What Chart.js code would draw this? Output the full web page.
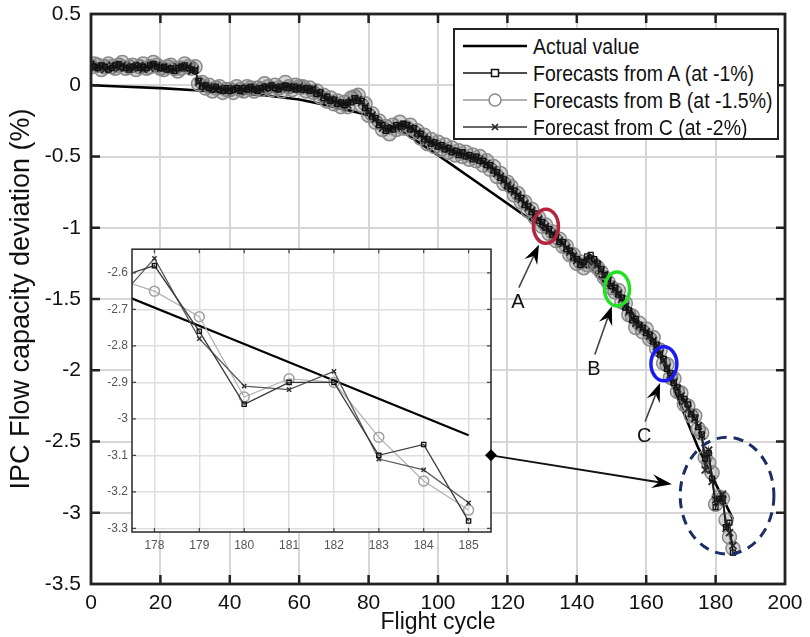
<!DOCTYPE html>
<html><head><meta charset="utf-8">
<script src="https://cdn.jsdelivr.net/npm/chart.js@4"></script>
<style>
html,body{margin:0;padding:0;background:#fff;}
#wrap{position:relative;width:810px;height:637px;overflow:hidden;}
#main{position:absolute;left:0;top:0;}
#inset{position:absolute;left:90px;top:238px;}
#legend{position:absolute;left:453px;top:28px;width:322px;height:108px;border:2px solid #222;background:#fff;
  font-family:'Liberation Sans',Arial,sans-serif;font-size:19.5px;color:#111;}
.row{position:absolute;left:8px;height:26px;display:flex;align-items:center;white-space:nowrap;}
.row svg{margin-right:6px;}
.row span{display:inline-block;transform:scaleY(1.1);}
</style></head>
<body><div id="wrap">
<canvas id="main" width="810" height="637" style="width:810px;height:637px"></canvas>
<canvas id="inset" width="410" height="320" style="width:410px;height:320px"></canvas>
<div id="legend">
 <div class="row" style="top:3px"><svg width="64" height="20"><line x1="0" y1="10" x2="64" y2="10" stroke="#000" stroke-width="2.5"/></svg><span>Actual value</span></div>
 <div class="row" style="top:30px"><svg width="64" height="20"><line x1="0" y1="10" x2="64" y2="10" stroke="#111" stroke-width="1.5"/><rect x="28.5" y="6.5" width="7" height="7" fill="#fff" stroke="#111" stroke-width="1.5"/></svg><span>Forecasts from A (at -1%)</span></div>
 <div class="row" style="top:57px"><svg width="64" height="20"><line x1="0" y1="10" x2="64" y2="10" stroke="#999" stroke-width="1.5"/><circle cx="32" cy="10" r="6" fill="#fff" stroke="#8a8a8a" stroke-width="1.5"/></svg><span>Forecasts from B (at -1.5%)</span></div>
 <div class="row" style="top:84px"><svg width="64" height="20"><line x1="0" y1="10" x2="64" y2="10" stroke="#333" stroke-width="1.5"/><path d="M29 7 L35 13 M35 7 L29 13" stroke="#222" stroke-width="1.6"/></svg><span>Forecast from C (at -2%)</span></div>
</div>
</div>
<script>
// ---------------- data ----------------
const cyclesMain = [0,1,2,3,4,5,6,7,8,9,10,11,12,13,14,15,16,17,18,19,20,21,22,23,24,25,26,27,28,29,30,
 31,32,33,34,35,36,37,38,39,40,41,42,43,44,45,46,47,48,49,50,51,52,53,54,55,56,57,58,59,60,
 61,62,63,64,65,66,67,68,69,70,71,72,73,74,75,76,77,78,79,80,81,82,83,84,85,86,87,88,89,90,
 91,92,93,94,95,96,97,98,99,100,101,102,103,104,105,106,107,108,109,110,111,112,113,114,115,116,117,118,119,120,
 121,122,123,124,125,126,127,128,129,130,131,132,133,134,135,136,137,138,139,140,141,142,143,144,145,146,147,148,149,150,
 151,152,153,154,155,156,157,158,159,160,161,162,163,164,165,166,167,168,169,170,171,172,173,174,175,176];
const forecastA = [0.15,0.13,0.12,0.14,0.13,0.11,0.12,0.14,0.15,0.13,0.12,0.11,0.13,0.14,0.12,0.13,0.12,0.14,0.15,0.13,0.12,0.13,0.11,0.12,0.10,0.12,0.13,0.14,0.12,0.11,0.10,
 0.03,-0.01,0.00,-0.02,-0.03,-0.01,-0.03,-0.04,-0.02,-0.04,-0.03,-0.02,-0.04,-0.02,-0.03,-0.01,-0.03,-0.04,-0.02,-0.01,-0.02,0.00,-0.02,-0.03,-0.01,0.00,-0.02,-0.01,-0.03,-0.02,
 -0.03,-0.02,-0.04,-0.03,-0.06,-0.05,-0.09,-0.08,-0.11,-0.10,-0.13,-0.12,-0.14,-0.12,-0.12,-0.09,-0.11,-0.11,-0.16,-0.18,-0.22,-0.23,-0.28,-0.28,-0.32,-0.30,-0.31,-0.28,-0.29,-0.27,
 -0.28,-0.31,-0.30,-0.34,-0.34,-0.38,-0.38,-0.41,-0.40,-0.43,-0.42,-0.45,-0.44,-0.47,-0.46,-0.49,-0.47,-0.50,-0.49,-0.52,-0.50,-0.53,-0.53,-0.56,-0.56,-0.60,-0.61,-0.65,-0.66,-0.71,
 -0.73,-0.74,-0.78,-0.79,-0.84,-0.85,-0.89,-0.90,-0.95,-0.96,-1.00,-1.01,-1.05,-1.06,-1.10,-1.10,-1.15,-1.16,-1.21,-1.22,-1.26,-1.24,-1.20,-1.19,-1.22,-1.25,-1.29,-1.33,-1.36,-1.41,
 -1.42,-1.47,-1.49,-1.56,-1.58,-1.65,-1.64,-1.68,-1.70,-1.74,-1.75,-1.80,-1.82,-1.89,-1.92,-1.99,-2.02,-2.09,-2.12,-2.19,-2.20,-2.24,-2.31,-2.33,-2.40,-2.45];
const forecastB = [0.13,0.15,0.14,0.11,0.13,0.15,0.13,0.12,0.14,0.16,0.12,0.13,0.14,0.11,0.13,0.15,0.12,0.13,0.16,0.14,0.12,0.11,0.13,0.14,0.12,0.10,0.12,0.15,0.13,0.12,0.13,
 0.01,0.02,-0.02,0.00,-0.04,-0.02,-0.01,-0.05,-0.03,-0.03,-0.05,-0.01,-0.03,-0.04,-0.01,-0.02,-0.04,-0.02,-0.03,0.01,-0.01,-0.03,0.00,-0.02,-0.04,0.02,-0.01,-0.03,0.00,-0.01,
 -0.01,-0.04,-0.02,-0.05,-0.04,-0.08,-0.07,-0.11,-0.09,-0.13,-0.11,-0.15,-0.12,-0.15,-0.09,-0.08,-0.07,-0.14,-0.13,-0.21,-0.20,-0.26,-0.25,-0.31,-0.29,-0.34,-0.28,-0.31,-0.26,-0.30,
 -0.30,-0.28,-0.33,-0.32,-0.37,-0.35,-0.41,-0.38,-0.43,-0.40,-0.45,-0.42,-0.47,-0.44,-0.49,-0.46,-0.50,-0.47,-0.52,-0.49,-0.53,-0.50,-0.56,-0.53,-0.59,-0.57,-0.64,-0.62,-0.69,-0.68,
 -0.71,-0.77,-0.76,-0.82,-0.82,-0.88,-0.87,-0.93,-0.93,-0.99,-0.98,-1.04,-1.03,-1.09,-1.08,-1.13,-1.13,-1.19,-1.19,-1.25,-1.24,-1.28,-1.26,-1.24,-1.26,-1.28,-1.31,-1.35,-1.38,-1.42,
 -1.45,-1.44,-1.52,-1.53,-1.61,-1.62,-1.70,-1.67,-1.73,-1.71,-1.78,-1.77,-1.85,-1.86,-1.95,-1.96,-2.05,-2.06,-2.15,-2.16,-2.24,-2.25,-2.32,-2.32,-2.41,-2.44];
const forecastC = [0.14,0.12,0.13,0.13,0.11,0.12,0.14,0.13,0.12,0.14,0.13,0.12,0.12,0.13,0.14,0.11,0.13,0.12,0.14,0.14,0.12,0.12,0.12,0.11,0.11,0.13,0.12,0.12,0.13,0.10,0.11,
 0.02,0.00,-0.01,-0.01,-0.02,-0.03,-0.02,-0.03,-0.04,-0.03,-0.02,-0.03,-0.02,-0.03,-0.02,-0.02,-0.02,-0.03,-0.03,-0.02,-0.01,-0.02,-0.01,-0.02,-0.02,-0.01,-0.01,-0.02,-0.02,-0.01,
 -0.02,-0.03,-0.03,-0.02,-0.05,-0.06,-0.08,-0.10,-0.10,-0.11,-0.12,-0.13,-0.13,-0.14,-0.11,-0.10,-0.10,-0.12,-0.15,-0.19,-0.21,-0.24,-0.27,-0.30,-0.31,-0.31,-0.30,-0.29,-0.28,-0.28,
 -0.29,-0.30,-0.31,-0.33,-0.35,-0.37,-0.39,-0.40,-0.41,-0.42,-0.43,-0.44,-0.45,-0.46,-0.47,-0.48,-0.48,-0.49,-0.50,-0.51,-0.51,-0.52,-0.54,-0.55,-0.57,-0.59,-0.62,-0.64,-0.67,-0.70,
 -0.72,-0.75,-0.77,-0.80,-0.83,-0.86,-0.88,-0.91,-0.94,-0.97,-0.99,-1.02,-1.04,-1.07,-1.09,-1.11,-1.14,-1.17,-1.20,-1.23,-1.25,-1.26,-1.23,-1.22,-1.24,-1.26,-1.30,-1.33,-1.37,-1.40,
 -1.43,-1.46,-1.50,-1.55,-1.59,-1.64,-1.67,-1.69,-1.71,-1.73,-1.76,-1.79,-1.83,-1.88,-1.93,-1.98,-2.03,-2.08,-2.13,-2.18,-2.22,-2.27,-2.30,-2.34,-2.39,-2.46];
// final cycles (shown in the zoomed inset)
const cyclesEnd = [177,178,179,180,181,182,183,184,185];
const forecastAEnd = [-2.62,-2.58,-2.76,-2.96,-2.90,-2.90,-3.10,-3.07,-3.28];
const forecastBEnd = [-2.61,-2.65,-2.72,-2.94,-2.89,-2.90,-3.05,-3.17,-3.25];
const forecastCEnd = [-2.70,-2.56,-2.78,-2.91,-2.92,-2.87,-3.11,-3.14,-3.23];
const actualCycles = [0,10,20,30,40,50,60,70,80,90,100,110,120,130,140,150,155,160,165,170,175,180,185];
const actualValues = [0,-0.01,-0.02,-0.035,-0.05,-0.07,-0.10,-0.15,-0.21,-0.33,-0.49,-0.66,-0.83,-1.0,-1.2,-1.43,-1.56,-1.74,-1.95,-2.25,-2.545,-2.795,-3.045];
const xTicksMain = [0,20,40,60,80,100,120,140,160,180,200];
const yTicksMain = [0.5,0,-0.5,-1,-1.5,-2,-2.5,-3,-3.5];
const yTickLabelsMain = ['0.5','0','-0.5','-1','-1.5','-2','-2.5','-3','-3.5'];
const xTicksInset = [178,179,180,181,182,183,184,185];
const yTicksInset = [-2.6,-2.7,-2.8,-2.9,-3,-3.1,-3.2,-3.3];
const yTickLabelsInset = ['-2.6','-2.7','-2.8','-2.9','-3','-3.1','-3.2','-3.3'];
const seriesNames = ['Actual value','Forecasts from A (at -1%)','Forecasts from B (at -1.5%)','Forecast from C (at -2%)'];

// annotation placement (data coordinates)
const rings = [
  {x:131.1, y:-0.99, rx:12.5, ry:17, color:'#b3243d'},
  {x:151.6, y:-1.43, rx:12.5, ry:17, color:'#22e022'},
  {x:165.1, y:-1.955, rx:13, ry:17, color:'#1a1af5'}
];
const pointers = [
  {label:'A', from:[123.3,-1.42], to:[129.1,-1.12]},
  {label:'B', from:[145.2,-1.89], to:[150.1,-1.55]},
  {label:'C', from:[159.7,-2.36], to:[164.0,-2.09]}
];
const zoomRegion = {x:183.3, y:-2.88, rx:13.5, ry:0.41};
const connector = {insetY:-3.1, to:[167.4,-2.80]};

// ---------------- helpers ----------------
const FONT = "'Liberation Sans',Arial,sans-serif";
function pts(xs, ys){ return xs.map((x,i)=>({x:x, y:ys[i]})); }
function setTicks(values){ return function(scale){ scale.ticks = values.map(v=>({value:v})); }; }

function arrowHead(ctx, x0, y0, x1, y1, len, half){
  const a = Math.atan2(y1-y0, x1-x0), c = Math.cos(a), s = Math.sin(a);
  const bx = x1 - c*len, by = y1 - s*len;
  const mx = x1 - c*len*0.65, my = y1 - s*len*0.65;
  ctx.beginPath();
  ctx.moveTo(x1, y1);
  ctx.lineTo(bx - s*half, by + c*half);
  ctx.lineTo(mx, my);
  ctx.lineTo(bx + s*half, by - c*half);
  ctx.closePath(); ctx.fill();
  return [mx, my];
}

function frameTicks(chart, len, color, width){
  const {ctx, chartArea:a, scales:{x, y}} = chart;
  ctx.save();
  ctx.strokeStyle = color; ctx.lineWidth = width;
  ctx.beginPath();
  x.ticks.forEach(t=>{ const p = x.getPixelForValue(t.value);
    if (p < a.left+1 || p > a.right-1) return;
    ctx.moveTo(p, a.bottom); ctx.lineTo(p, a.bottom-len);
    ctx.moveTo(p, a.top); ctx.lineTo(p, a.top+len); });
  y.ticks.forEach(t=>{ const p = y.getPixelForValue(t.value);
    if (p < a.top+1 || p > a.bottom-1) return;
    ctx.moveTo(a.left, p); ctx.lineTo(a.left+len, p);
    ctx.moveTo(a.right, p); ctx.lineTo(a.right-len, p); });
  ctx.stroke();
  ctx.restore();
}

function makeSeries(big){
  return [
    {label:seriesNames[0], data:pts(actualCycles, actualValues), borderColor:'#000', borderWidth: big?2.6:2.2,
      pointRadius:0, order:4},
    {label:seriesNames[2], data:pts(cyclesMain.concat(cyclesEnd), forecastB.concat(forecastBEnd)),
      borderColor: big?'#777':'#b0b0b0', borderWidth: big?1.5:1.2, pointStyle:'circle', pointRadius: big?7:5,
      pointBorderColor: big?'#8a8a8a':'#a0a0a0', pointBorderWidth:1.5,
      pointBackgroundColor: big?'rgba(60,60,60,0.22)':'rgba(255,255,255,0)', order:3},
    {label:seriesNames[3], data:pts(cyclesMain.concat(cyclesEnd), forecastC.concat(forecastCEnd)),
      borderColor: big?'#333':'#5a5a5a', borderWidth: big?1.6:1.3, pointStyle:'crossRot', pointRadius: big?5:3,
      pointBorderColor: big?'#2a2a2a':'#333', pointBorderWidth: big?1.8:1.5, order:2},
    {label:seriesNames[1], data:pts(cyclesMain.concat(cyclesEnd), forecastA.concat(forecastAEnd)),
      borderColor: big?'#1e1e1e':'#3a3a3a', borderWidth: big?1.6:1.3, pointStyle:'rect', pointRadius: big?3.5:3,
      pointBorderColor:'#111', pointBorderWidth:1.3, pointBackgroundColor:'rgba(255,255,255,0)', order:1}
  ];
}

const insetCanvas = document.getElementById('inset');
const insetDecor = {
  id:'insetDecor',
  beforeDraw(chart){
    const {ctx, chartArea:a} = chart;
    ctx.save(); ctx.fillStyle = '#fff'; ctx.fillRect(a.left, a.top, a.width, a.height); ctx.restore();
  },
  afterDatasetsDraw(chart){
    const {ctx, chartArea:a, scales:{y}} = chart;
    frameTicks(chart, 4, '#444', 1.2);
    ctx.save(); ctx.strokeStyle = '#333'; ctx.lineWidth = 1.6;
    ctx.strokeRect(a.left, a.top, a.width, a.height);
    const sx = a.right, sy = y.getPixelForValue(connector.insetY);
    ctx.fillStyle = '#000';
    ctx.beginPath(); ctx.moveTo(sx-6, sy); ctx.lineTo(sx, sy-6); ctx.lineTo(sx+6, sy); ctx.lineTo(sx, sy+6); ctx.closePath(); ctx.fill();
    ctx.restore();
  }
};

const insetChart = new Chart(insetCanvas, {
  type:'line',
  data:{datasets: makeSeries(false)},
  options:{
    responsive:false, animation:false, events:[],
    layout:{padding:{top:11, right:9, left:0, bottom:0}},
    plugins:{legend:{display:false}, tooltip:{enabled:false}},
    scales:{
      x:{type:'linear', min:177.5, max:185.5,
        afterBuildTicks: setTicks(xTicksInset),
        afterFit(s){ s.height = 26; },
        grid:{color:'#dedede', lineWidth:1.5, drawTicks:false},
        border:{display:false},
        ticks:{font:{size:12, family:FONT}, color:'#555', padding:6, maxRotation:0}
      },
      y:{type:'linear', min:-3.31, max:-2.535,
        afterBuildTicks: setTicks(yTicksInset),
        afterFit(s){ s.width = 42; },
        grid:{color:'#dedede', lineWidth:1.5, drawTicks:false},
        border:{display:false},
        ticks:{font:{size:12, family:FONT}, color:'#555', padding:4,
          callback:(v)=>{ const i = yTicksInset.findIndex(t=>Math.abs(t-v)<1e-9); return i>=0 ? yTickLabelsInset[i] : ''; }}
      }
    }
  },
  plugins:[insetDecor]
});

const mainDecor = {
  id:'mainDecor',
  afterDatasetsDraw(chart){
    const {ctx, chartArea:a, scales:{x, y}} = chart;
    frameTicks(chart, 9, '#222', 2.5);
    ctx.save();
    ctx.strokeStyle = '#222'; ctx.lineWidth = 2.8;
    ctx.strokeRect(a.left, a.top, a.width, a.height);
    rings.forEach(r=>{
      ctx.beginPath();
      ctx.ellipse(x.getPixelForValue(r.x), y.getPixelForValue(r.y), r.rx, r.ry, 0, 0, Math.PI*2);
      ctx.strokeStyle = r.color; ctx.lineWidth = 3.5; ctx.stroke();
    });
    ctx.strokeStyle = '#444'; ctx.lineWidth = 1.6;
    pointers.forEach(p=>{
      const x0 = x.getPixelForValue(p.from[0]), y0 = y.getPixelForValue(p.from[1]);
      const x1 = x.getPixelForValue(p.to[0]), y1 = y.getPixelForValue(p.to[1]);
      ctx.fillStyle = '#000';
      const m = arrowHead(ctx, x0, y0, x1, y1, 19, 7);
      ctx.beginPath(); ctx.moveTo(x0, y0); ctx.lineTo(m[0], m[1]); ctx.stroke();
      ctx.font = "20px " + FONT; ctx.textAlign = 'center'; ctx.textBaseline = 'middle';
      ctx.fillStyle = '#111';
      ctx.fillText(p.label, x0 - 1, y0 + 15);
    });
    const cx = x.getPixelForValue(zoomRegion.x), cy = y.getPixelForValue(zoomRegion.y);
    const rx = Math.abs(x.getPixelForValue(zoomRegion.x + zoomRegion.rx) - cx);
    const ry = Math.abs(y.getPixelForValue(zoomRegion.y + zoomRegion.ry) - cy);
    ctx.beginPath(); ctx.ellipse(cx, cy, rx, ry, 0, 0, Math.PI*2);
    ctx.setLineDash([10,7]); ctx.strokeStyle = '#1b2d63'; ctx.lineWidth = 3; ctx.stroke();
    ctx.setLineDash([]);
    const ia = insetChart.chartArea;
    const sx = insetCanvas.offsetLeft + ia.right;
    const sy = insetCanvas.offsetTop + insetChart.scales.y.getPixelForValue(connector.insetY);
    const ex = x.getPixelForValue(connector.to[0]), ey = y.getPixelForValue(connector.to[1]);
    ctx.fillStyle = '#000'; ctx.strokeStyle = '#111'; ctx.lineWidth = 2;
    const m2 = arrowHead(ctx, sx, sy, ex, ey, 20, 7);
    ctx.beginPath(); ctx.moveTo(sx, sy); ctx.lineTo(m2[0], m2[1]); ctx.stroke();
    ctx.restore();
  }
};

new Chart(document.getElementById('main'), {
  type:'line',
  data:{datasets: makeSeries(true)},
  options:{
    responsive:false, animation:false, events:[],
    layout:{padding:{top:14, right:25, left:0, bottom:0}},
    plugins:{legend:{display:false}, tooltip:{enabled:false}},
    scales:{
      x:{type:'linear', min:0, max:200,
        afterBuildTicks: setTicks(xTicksMain),
        afterFit(s){ s.height = 53; s.paddingLeft = 0; s.paddingRight = 0; },
        grid:{color:'#d6d6d6', lineWidth:2, drawTicks:false},
        border:{display:false},
        ticks:{font:{size:21, family:FONT}, color:'#111', padding:7, maxRotation:0},
        title:{display:true, text:'Flight cycle', font:{size:23, family:FONT}, color:'#111', padding:{top:0,bottom:1}}
      },
      y:{type:'linear', min:-3.5, max:0.5,
        afterBuildTicks: setTicks(yTicksMain),
        afterFit(s){ s.width = 91; s.paddingTop = 0; s.paddingBottom = 0; },
        grid:{color:'#d6d6d6', lineWidth:2, drawTicks:false},
        border:{display:false},
        ticks:{font:{size:21, family:FONT}, color:'#111', padding:10,
          callback:(v)=>{ const i = yTicksMain.indexOf(v); return i>=0 ? yTickLabelsMain[i] : ''; }},
        title:{display:true, text:'IPC Flow capacity deviation (%)', font:{size:27, family:FONT}, color:'#111', padding:{top:5,bottom:0}}
      }
    }
  },
  plugins:[mainDecor]
});
</script>
</body></html>
